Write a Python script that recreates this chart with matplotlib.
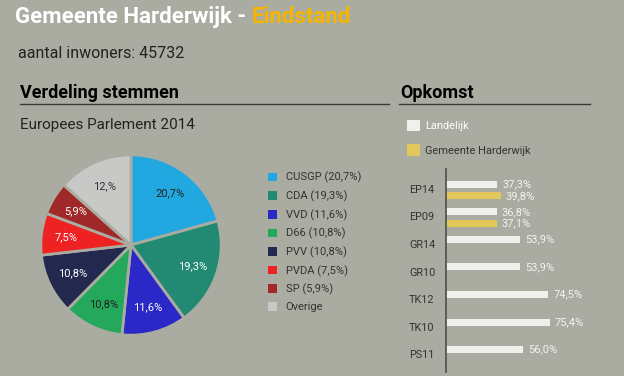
import numpy as np
import matplotlib.pyplot as plt

# pie data
parties = ['CUSGP', 'CDA', 'VVD', 'D66', 'PVV', 'PVDA', 'SP', 'Overige']
shares = [20.7, 19.3, 11.6, 10.8, 10.8, 7.5, 5.9, 13.4]
pie_labels = ['20,7%', '19,3%', '11,6%', '10,8%', '10,8%', '7,5%', '5,9%', '12,%']
pie_colors = ['#22a8e0', '#228a72', '#2b28c8', '#23a85c', '#22284e', '#ee2222', '#a02828', '#c8c8c6']
label_colors = ['#222222', 'white', 'white', '#222222', 'white', 'white', 'white', '#333333']

# turnout data
elections = ['EP14', 'EP09', 'GR14', 'GR10', 'TK12', 'TK10', 'PS11']
landelijk = [37.3, 36.8, 53.9, 53.9, 74.5, 75.4, 56.0]
gemeente = [39.8, 37.1, np.nan, np.nan, np.nan, np.nan, np.nan]

bg = '#aaaca1'
W, H = 624, 376


def fx(px):
    return px / W


def fy(py):
    return 1 - py / H


fig = plt.figure(figsize=(6.24, 3.76), dpi=100, facecolor=bg)
plt.rcParams['font.family'] = ['Roboto', 'DejaVu Sans']

# header texts
t = fig.text(fx(15), fy(17), 'Gemeente Harderwijk - ', color='white', fontsize=16,
             fontweight='bold', va='center')
fig.canvas.draw()
bb = t.get_window_extent()
fig.text(bb.x1 / W, fy(17), 'Eindstand', color='#f5b400', fontsize=16,
         fontweight='bold', va='center')
fig.text(fx(18), fy(53), 'aantal inwoners: 45732', color='#222222', fontsize=11.5, va='center')
fig.text(fx(20), fy(93), 'Verdeling stemmen', color='black', fontsize=13,
         fontweight='bold', va='center')
fig.text(fx(400), fy(93), 'Opkomst', color='black', fontsize=13,
         fontweight='bold', va='center')
fig.add_artist(plt.Line2D([fx(20), fx(389)], [fy(104), fy(104)], color='#3a3a3a', lw=1))
fig.add_artist(plt.Line2D([fx(399), fx(590)], [fy(104), fy(104)], color='#3a3a3a', lw=1))
fig.text(fx(20), fy(125), 'Europees Parlement 2014', color='#222222', fontsize=11, va='center')

# pie
r = 92
ax1 = fig.add_axes([fx(131 - r), fy(245 + r), 2 * r / W, 2 * r / H])
wedges, texts = ax1.pie(shares, colors=pie_colors, labels=pie_labels, labeldistance=0.72,
                        startangle=90, counterclock=False,
                        wedgeprops=dict(edgecolor=bg, linewidth=2))
for tx, c in zip(texts, label_colors):
    tx.set_ha('center')
    tx.set_va('center')
    tx.set_color(c)
    tx.set_fontsize(8)
ax1.set_xlim(-1.02, 1.02)
ax1.set_ylim(-1.02, 1.02)
ax1.set_aspect('equal')

leg_labels = [f"{p} ({str(v).replace('.', ',')}%)" for p, v in zip(parties[:-1], shares[:-1])]
leg_labels.append(parties[-1])
leg1 = fig.legend(wedges, leg_labels, loc='upper left', bbox_to_anchor=(fx(268), fy(172)),
                  frameon=False, fontsize=8, handlelength=0.8, handleheight=0.8,
                  handletextpad=0.8, labelspacing=0.64, borderaxespad=0, borderpad=0)
for h in leg1.legend_handles:
    h.set_edgecolor('none')
for tx in leg1.get_texts():
    tx.set_color('#333333')

# turnout bars
ax2 = fig.add_axes([fx(446), fy(372), 137.5 / W, (372 - 169) / H])
ax2.set_facecolor('none')
y = np.arange(len(elections))
bh = 0.25
b1 = ax2.barh(y - 0.17, landelijk, height=bh, color='#f0f0ec', label='Landelijk')
b2 = ax2.barh(y + 0.25, gemeente, height=bh, color='#e2c85a', label='Gemeente Harderwijk')
for yi, v in zip(y, landelijk):
    ax2.text(v + 3.5, yi - 0.17, f'{v:.1f}%'.replace('.', ','), color='#f4f4f0',
             fontsize=8, va='center', clip_on=False)
for yi, v in zip(y, gemeente):
    if not np.isnan(v):
        ax2.text(v + 3.5, yi + 0.25, f'{v:.1f}%'.replace('.', ','), color='#f4f4f0',
                 fontsize=8, va='center', clip_on=False)
ax2.set_xlim(0, 100)
ax2.set_ylim(6.64, -0.72)
ax2.set_yticks(y)
ax2.set_yticklabels(elections, ha='left', color='#333333', fontsize=7.8)
ax2.tick_params(axis='y', length=0, pad=26.6)
ax2.set_xticks([])
for s in ['top', 'right', 'bottom']:
    ax2.spines[s].set_visible(False)
ax2.spines['left'].set_color('#555555')
ax2.spines['left'].set_linewidth(1.3)

leg2 = fig.legend([b1, b2], ['Landelijk', 'Gemeente Harderwijk'], loc='upper left',
                  bbox_to_anchor=(fx(407), fy(120)), frameon=False, fontsize=7.9,
                  handlelength=1.2, handleheight=1.2, handletextpad=0.45,
                  labelspacing=1.2, borderaxespad=0, borderpad=0)
leg2.get_texts()[0].set_color('white')
leg2.get_texts()[1].set_color('#333333')

fig.savefig('out.png', dpi=100, facecolor=bg)
